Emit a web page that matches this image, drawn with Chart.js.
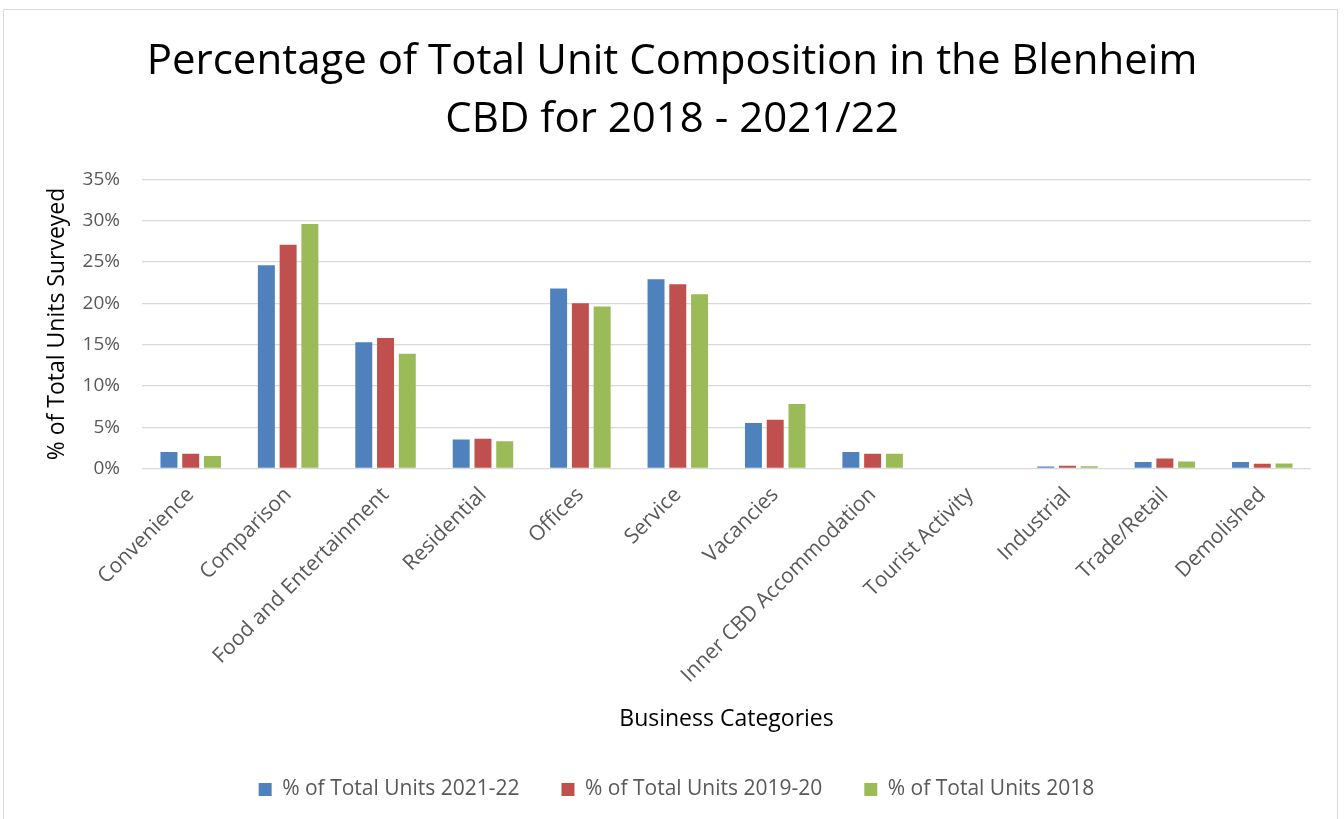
<!DOCTYPE html>
<html>
<head>
<meta charset="utf-8">
<title>Blenheim CBD unit composition</title>
<script src="https://cdn.jsdelivr.net/npm/chart.js@4/dist/chart.umd.min.js"></script>
<style>
  html, body { margin: 0; padding: 0; background: #fff; overflow: hidden; }
  #wrap { position: relative; width: 1344px; height: 819px; }
  #frame {
    position: absolute; left: 3px; top: 9px; width: 1335px; height: 830px;
    border: 1px solid #d9d9d9; box-sizing: border-box;
  }
  canvas { position: absolute; left: 0; top: 0; }
</style>
</head>
<body>
<div id="wrap">
  <div id="frame"></div>
  <canvas id="unitChart" width="1344" height="819"></canvas>
</div>
<script>
// business categories surveyed
const categories = [
  "Convenience", "Comparison", "Food and Entertainment", "Residential",
  "Offices", "Service", "Vacancies", "Inner CBD Accommodation",
  "Tourist Activity", "Industrial", "Trade/Retail", "Demolished"
];

// % of total units per survey
const units2021 = [2.0, 24.6, 15.3, 3.5, 21.8, 22.9, 5.5, 2.0, 0, 0.24, 0.8, 0.8];
const units2019 = [1.8, 27.1, 15.8, 3.6, 20.0, 22.3, 5.9, 1.8, 0, 0.32, 1.2, 0.56];
const units2018 = [1.5, 29.6, 13.9, 3.3, 19.6, 21.1, 7.8, 1.8, 0, 0.28, 0.84, 0.6];

const seriesNames = [
  "% of Total Units 2021-22",
  "% of Total Units 2019-20",
  "% of Total Units 2018"
];
const seriesColors = ["#4f81bd", "#c0504d", "#9bbb59"];

const yTicks = [0, 5, 10, 15, 20, 25, 30, 35];

const FONT = "'Open Sans', 'DejaVu Sans', sans-serif";

// centre title and legend on the whole canvas instead of the padded area
const widenBlocks = {
  id: "widenBlocks",
  afterLayout(chart) {
    const t = chart.titleBlock;
    if (t) { t.left = 0; t.right = chart.width; t.width = chart.width; }
    const l = chart.legend;
    if (l) {
      l.left = 9; l.right = chart.width; l.width = chart.width - 9;
      l.adjustHitBoxes();
    }
  }
};

const ctx = document.getElementById("unitChart").getContext("2d");

const unitChart = new Chart(ctx, {
  type: "bar",
  data: {
    labels: categories,
    datasets: [units2021, units2019, units2018].map((vals, i) => ({
      label: seriesNames[i],
      data: vals,
      backgroundColor: seriesColors[i],
      borderWidth: 0,
      categoryPercentage: 0.67,
      barPercentage: 0.78
    }))
  },
  plugins: [widenBlocks],
  options: {
    responsive: false,
    animation: false,
    devicePixelRatio: 1,
    layout: { padding: { left: 4, right: 33, top: 0, bottom: 9 } },
    plugins: {
      title: {
        display: true,
        text: [
          "Percentage of Total Unit Composition in the Blenheim",
          "CBD for 2018 - 2021/22"
        ],
        color: "#000",
        font: { family: FONT, size: 42, weight: "normal", lineHeight: 1.38 },
        padding: { top: 33, bottom: 30.5 }
      },
      legend: {
        position: "bottom",
        labels: {
          color: "#595959",
          font: { family: FONT, size: 21 },
          boxWidth: 13,
          boxHeight: 13,
          padding: 42
        }
      },
      tooltip: { enabled: false }
    },
    scales: {
      x: {
        afterFit: axis => { axis.height = 268.5; },
        grid: { display: false },
        border: { display: false },
        ticks: {
          color: "#595959",
          font: { family: FONT, size: 21 },
          minRotation: 45,
          maxRotation: 45,
          padding: 6
        },
        title: {
          display: true,
          text: "Business Categories",
          color: "#000",
          font: { family: FONT, size: 23 },
          padding: { top: 0, bottom: 4 }
        }
      },
      y: {
        min: yTicks[0],
        max: yTicks[yTicks.length - 1],
        afterBuildTicks: axis => {
          axis.ticks = yTicks.map(v => ({ value: v }));
        },
        afterFit: axis => { axis.width = 138; },
        grid: { color: "#d9d9d9", lineWidth: 1.3, drawTicks: false },
        border: { display: false },
        ticks: {
          color: "#595959",
          font: { family: FONT, size: 19 },
          padding: 22,
          callback: v => v + "%"
        },
        title: {
          display: true,
          text: "% of Total Units Surveyed",
          color: "#000",
          font: { family: FONT, size: 23 },
          padding: { top: 40, bottom: 0 }
        }
      }
    }
  }
});
</script>
</body>
</html>
